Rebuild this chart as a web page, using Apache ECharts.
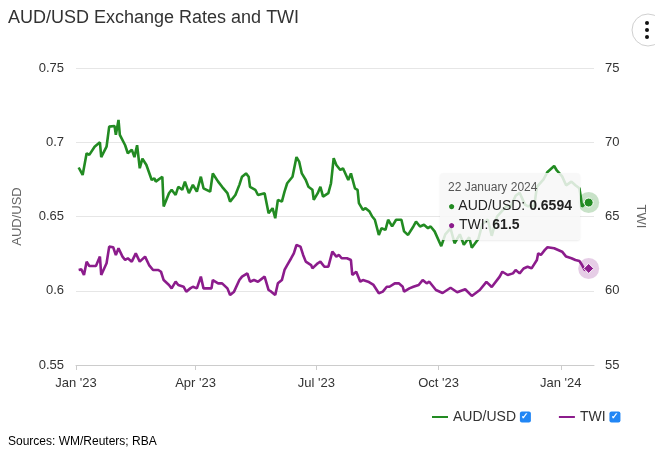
<!DOCTYPE html>
<html>
<head>
<meta charset="utf-8">
<title>AUD/USD Exchange Rates and TWI</title>
<script src="https://cdn.jsdelivr.net/npm/echarts@6/dist/echarts.min.js"></script>
<style>
  html, body { margin: 0; padding: 0; background: #fff; }
  #chart { width: 655px; height: 451px; }
</style>
</head>
<body>
<div id="chart"></div>
<script>
// AUD/USD
const audDates = [
  '2023-01-03','2023-01-06','2023-01-09','2023-01-11','2023-01-15','2023-01-19','2023-01-20','2023-01-24',
  '2023-01-26','2023-01-30','2023-01-31','2023-02-02','2023-02-03','2023-02-07','2023-02-09','2023-02-12',
  '2023-02-14','2023-02-16','2023-02-18','2023-02-20','2023-02-23','2023-02-27','2023-03-01','2023-03-02',
  '2023-03-07','2023-03-08','2023-03-12','2023-03-14','2023-03-17','2023-03-19','2023-03-22','2023-03-24',
  '2023-03-27','2023-03-30','2023-04-02','2023-04-05','2023-04-07','2023-04-12','2023-04-14','2023-04-18',
  '2023-04-21','2023-04-25','2023-04-27','2023-05-01','2023-05-04','2023-05-06','2023-05-09','2023-05-11',
  '2023-05-12','2023-05-16','2023-05-18','2023-05-23','2023-05-26','2023-05-29','2023-05-31','2023-06-02',
  '2023-06-05','2023-06-07','2023-06-09','2023-06-13','2023-06-16','2023-06-18','2023-06-20','2023-06-23',
  '2023-06-25','2023-06-28','2023-06-29','2023-07-02','2023-07-04','2023-07-06','2023-07-10','2023-07-12',
  '2023-07-14','2023-07-16','2023-07-19','2023-07-21','2023-07-25','2023-07-27','2023-07-30','2023-08-01',
  '2023-08-02','2023-08-05','2023-08-07','2023-08-10','2023-08-12','2023-08-14','2023-08-17','2023-08-19',
  '2023-08-22','2023-08-24','2023-08-27','2023-08-30','2023-09-03','2023-09-05','2023-09-08','2023-09-12',
  '2023-09-14','2023-09-17','2023-09-20','2023-09-23','2023-09-25','2023-09-28','2023-10-03','2023-10-06',
  '2023-10-10','2023-10-13','2023-10-17','2023-10-20','2023-10-24','2023-10-26','2023-10-31','2023-11-03',
  '2023-11-07','2023-11-10','2023-11-14','2023-11-17','2023-11-21','2023-11-24','2023-11-28','2023-12-01',
  '2023-12-05','2023-12-07','2023-12-12','2023-12-14','2023-12-19','2023-12-22','2023-12-27','2023-12-29',
  '2024-01-02','2024-01-05','2024-01-09','2024-01-12','2024-01-15','2024-01-16','2024-01-17','2024-01-19',
  '2024-01-22'
];
const audValues = [
  0.683, 0.678, 0.6926, 0.6915, 0.697, 0.700, 0.690, 0.697,
  0.7105, 0.711, 0.705, 0.715, 0.705, 0.698, 0.6926, 0.695,
  0.690, 0.698, 0.6825, 0.689, 0.6847, 0.6746, 0.6757, 0.6735,
  0.6768, 0.6567, 0.6657, 0.668, 0.6645, 0.670, 0.668, 0.6735,
  0.6657, 0.6713, 0.6667, 0.6768, 0.669, 0.6667, 0.679, 0.6735,
  0.670, 0.6657, 0.660, 0.6645, 0.6713, 0.6768, 0.679, 0.6768,
  0.670, 0.668, 0.6645, 0.6657, 0.6522, 0.6556, 0.6488, 0.6612,
  0.660, 0.6667, 0.6724, 0.6768, 0.690, 0.687, 0.679, 0.6746,
  0.670, 0.668, 0.6612, 0.6657, 0.670, 0.6634, 0.6657, 0.6724,
  0.6893, 0.6847, 0.6813, 0.6825, 0.6746, 0.679, 0.669, 0.668,
  0.659, 0.6545, 0.6556, 0.6533, 0.650, 0.6478, 0.6376, 0.6421,
  0.641, 0.6478, 0.6433, 0.6478, 0.6478, 0.640, 0.6376, 0.6433,
  0.6466, 0.6433, 0.6444, 0.6421, 0.6433, 0.640, 0.630, 0.638,
  0.642, 0.632, 0.638, 0.631, 0.636, 0.629, 0.635, 0.645,
  0.648, 0.637, 0.650, 0.653, 0.657, 0.656, 0.664, 0.666,
  0.658, 0.657, 0.657, 0.670, 0.675, 0.680, 0.684, 0.681,
  0.677, 0.671, 0.6735, 0.671, 0.669, 0.6634, 0.6567, 0.6585,
  0.6594
];

// Trade-weighted index
const twiDates = [
  '2023-01-03','2023-01-05','2023-01-07','2023-01-09','2023-01-11','2023-01-16','2023-01-19','2023-01-20',
  '2023-01-24','2023-01-26','2023-01-29','2023-01-31','2023-02-02','2023-02-05','2023-02-07','2023-02-09',
  '2023-02-12','2023-02-15','2023-02-18','2023-02-22','2023-02-25','2023-02-28','2023-03-04','2023-03-06',
  '2023-03-08','2023-03-12','2023-03-14','2023-03-17','2023-03-19','2023-03-23','2023-03-25','2023-03-28',
  '2023-03-30','2023-04-02','2023-04-05','2023-04-07','2023-04-13','2023-04-14','2023-04-18','2023-04-21',
  '2023-04-25','2023-04-27','2023-04-30','2023-05-04','2023-05-06','2023-05-10','2023-05-12','2023-05-15',
  '2023-05-18','2023-05-23','2023-05-26','2023-05-28','2023-05-31','2023-06-02','2023-06-05','2023-06-07',
  '2023-06-09','2023-06-12','2023-06-14','2023-06-16','2023-06-19','2023-06-21','2023-06-23','2023-06-27',
  '2023-06-28','2023-07-02','2023-07-04','2023-07-07','2023-07-10','2023-07-13','2023-07-16','2023-07-18',
  '2023-07-20','2023-07-24','2023-07-27','2023-07-28','2023-07-31','2023-08-03','2023-08-05','2023-08-09',
  '2023-08-13','2023-08-17','2023-08-20','2023-08-23','2023-08-25','2023-08-29','2023-09-01','2023-09-04',
  '2023-09-05','2023-09-09','2023-09-12','2023-09-16','2023-09-19','2023-09-22','2023-09-24','2023-09-29',
  '2023-10-04','2023-10-10','2023-10-15','2023-10-21','2023-10-26','2023-11-01','2023-11-06','2023-11-10',
  '2023-11-16','2023-11-18','2023-11-22','2023-11-26','2023-11-28','2023-12-01','2023-12-04','2023-12-07',
  '2023-12-10','2023-12-14','2023-12-15','2023-12-17','2023-12-20','2023-12-22','2023-12-27','2024-01-02',
  '2024-01-05','2024-01-09','2024-01-12','2024-01-15','2024-01-17','2024-01-19','2024-01-22'
];
const twiValues = [
  61.4, 61.44, 61.06, 61.96, 61.67, 61.67, 62.3, 61.06,
  61.85, 62.97, 62.93, 62.4, 62.86, 62.3, 62.07, 62.19,
  61.96, 62.52, 61.96, 62.3, 61.73, 61.4, 61.4, 61.28,
  60.72, 60.39, 60.16, 60.61, 60.39, 60.27, 59.94, 60.16,
  60.27, 60.16, 60.95, 60.16, 60.16, 60.72, 60.5, 60.5,
  60.16, 59.71, 59.94, 60.72, 60.95, 61.17, 60.61, 60.72,
  60.61, 60.95, 60.05, 59.94, 59.71, 60.5, 60.72, 61.4,
  61.73, 62.19, 62.52, 63.08, 62.97, 62.41, 61.96, 61.73,
  61.51, 61.85, 61.96, 61.62, 61.62, 62.63, 62.3, 62.41,
  62.19, 62.19, 62.07, 61.06, 61.28, 60.61, 60.72, 60.61,
  60.39, 59.83, 59.94, 60.27, 60.27, 60.5, 60.5, 60.27,
  59.94, 60.16, 60.27, 60.39, 60.72, 60.5, 60.61, 60.05,
  59.85, 60.2, 59.9, 60.1, 59.65, 60.05, 60.6, 60.25,
  60.95, 61.28, 61.06, 61.17, 61.4, 61.17, 61.5, 61.62,
  61.51, 62.07, 62.52, 62.41, 62.75, 62.93, 62.86, 62.63,
  62.3, 62.19, 62.07, 62.0, 61.73, 61.4, 61.5
];

const xTickDates = ['2023-01-01', '2023-04-01', '2023-07-01', '2023-10-01', '2024-01-01'];
const xTickLabels = ["Jan '23", "Apr '23", "Jul '23", "Oct '23", "Jan '24"];
const monthNames = ['January','February','March','April','May','June','July',
  'August','September','October','November','December'];

const FONT = '"Liberation Sans", Arial, Helvetica, sans-serif';
const AUD_COLOR = '#228b22';
const TWI_COLOR = '#8c1c8c';

function toTime(s) {
  const p = s.split('-').map(Number);
  return Date.UTC(p[0], p[1] - 1, p[2]);
}

const tickTimes = xTickDates.map(toTime);
const audData = audDates.map((d, i) => [toTime(d), audValues[i]]);
const twiData = twiDates.map((d, i) => [toTime(d), twiValues[i]]);
const audLast = audData[audData.length - 1];
const twiLast = twiData[twiData.length - 1];

const chart = echarts.init(document.getElementById('chart'));

const option = {
  animation: false,
  textStyle: { fontFamily: FONT },
  title: [
    {
      text: 'AUD/USD Exchange Rates and TWI',
      left: 8,
      top: 9,
      padding: 0,
      textStyle: { fontSize: 18, fontWeight: 'normal', color: '#333', fontFamily: FONT }
    },
    {
      text: 'Sources: WM/Reuters; RBA',
      left: 8,
      top: 436,
      padding: 0,
      textStyle: { fontSize: 12, fontWeight: 'normal', color: '#000', fontFamily: FONT }
    }
  ],
  graphic: [
    { type: 'circle', shape: { cx: 648, cy: 30, r: 16 }, style: { fill: '#fff', stroke: '#cfcfcf', lineWidth: 1 } },
    { type: 'circle', shape: { cx: 647, cy: 23, r: 2 }, style: { fill: '#111' } },
    { type: 'circle', shape: { cx: 647, cy: 30, r: 2 }, style: { fill: '#111' } },
    { type: 'circle', shape: { cx: 647, cy: 37, r: 2 }, style: { fill: '#111' } }
  ],
  grid: { left: 76, right: 48, top: 68, bottom: 86 },
  legend: {
    left: 427,
    top: 405,
    icon: 'rect',
    itemWidth: 16,
    itemHeight: 2,
    itemGap: 28,
    data: ['AUD/USD', 'TWI'],
    formatter: name => name + ' {cb|✓}',
    textStyle: {
      fontSize: 14,
      color: '#333',
      fontFamily: FONT,
      rich: {
        cb: {
          backgroundColor: '#2186f5',
          color: '#fff',
          borderRadius: 2,
          width: 11,
          height: 11,
          lineHeight: 11,
          fontSize: 9,
          fontWeight: 'bold',
          align: 'center'
        }
      }
    }
  },
  tooltip: {
    trigger: 'axis',
    axisPointer: { type: 'none' },
    alwaysShowContent: true,
    position: [440, 173],
    backgroundColor: 'rgba(247,247,247,0.85)',
    borderWidth: 0,
    padding: [6, 8, 6, 8],
    transitionDuration: 0,
    extraCssText: 'box-shadow: 0 1px 2px rgba(0,0,0,0.08); border-radius: 3px;',
    formatter: params => {
      const d = new Date(params[0].value[0]);
      const head = d.getUTCDate() + ' ' + monthNames[d.getUTCMonth()] + ' ' + d.getUTCFullYear();
      const ff = FONT.replace(/"/g, "'");
      let html = '<div style="font-size:12px;color:#555;line-height:17px;font-family:' + ff + '">' + head + '</div>';
      params.forEach(p => {
        const v = p.seriesName === 'TWI' ? p.value[1].toFixed(1) : p.value[1].toFixed(4);
        html += '<div style="font-size:14px;color:#222;line-height:18px;font-family:' + ff + '">' +
          '<span style="color:' + p.color + ';font-size:12px;">●</span> ' +
          p.seriesName + ': <b>' + v + '</b></div>';
      });
      return html;
    }
  },
  xAxis: {
    type: 'value',
    min: toTime('2023-01-01'),
    max: toTime('2024-01-26'),
    axisLine: { lineStyle: { color: '#ccc' } },
    axisTick: { show: true, length: 5, lineStyle: { color: '#ccc' }, customValues: tickTimes },
    axisLabel: {
      customValues: tickTimes,
      color: '#333',
      fontSize: 13,
      margin: 12,
      formatter: v => {
        const i = tickTimes.indexOf(v);
        return i >= 0 ? xTickLabels[i] : '';
      }
    },
    splitLine: { show: false }
  },
  yAxis: [
    {
      type: 'value',
      min: 0.55,
      max: 0.75,
      interval: 0.05,
      name: 'AUD/USD',
      nameLocation: 'middle',
      nameRotate: 90,
      nameGap: 52,
      nameTextStyle: { color: '#666', fontSize: 13 },
      axisLine: { show: false },
      axisTick: { show: false },
      axisLabel: { color: '#333', fontSize: 13, margin: 12 },
      splitLine: { lineStyle: { color: '#e6e6e6' } }
    },
    {
      type: 'value',
      min: 55,
      max: 75,
      interval: 5,
      name: 'TWI',
      nameLocation: 'middle',
      nameRotate: -90,
      nameGap: 40,
      nameTextStyle: { color: '#666', fontSize: 13 },
      axisLine: { show: false },
      axisTick: { show: false },
      axisLabel: { color: '#333', fontSize: 13, margin: 11 },
      splitLine: { show: false }
    }
  ],
  series: [
    {
      name: 'AUD/USD',
      type: 'line',
      data: audData,
      symbol: 'none',
      color: AUD_COLOR,
      lineStyle: { width: 2.6, color: AUD_COLOR },
      emphasis: { disabled: true },
      markPoint: {
        silent: true,
        label: { show: false },
        data: [
          { coord: audLast, symbol: 'circle', symbolSize: 21, itemStyle: { color: 'rgba(34,139,34,0.25)' } },
          { coord: audLast, symbol: 'circle', symbolSize: 9, itemStyle: { color: AUD_COLOR, borderColor: '#fff', borderWidth: 1 } }
        ]
      }
    },
    {
      name: 'TWI',
      type: 'line',
      yAxisIndex: 1,
      data: twiData,
      symbol: 'none',
      color: TWI_COLOR,
      lineStyle: { width: 2.6, color: TWI_COLOR },
      emphasis: { disabled: true },
      markPoint: {
        silent: true,
        label: { show: false },
        data: [
          { coord: twiLast, symbol: 'circle', symbolSize: 21, itemStyle: { color: 'rgba(140,28,140,0.22)' } },
          { coord: twiLast, symbol: 'diamond', symbolSize: 10, itemStyle: { color: TWI_COLOR, borderColor: '#fff', borderWidth: 1 } }
        ]
      }
    }
  ]
};

chart.setOption(option);
chart.dispatchAction({ type: 'showTip', seriesIndex: 0, dataIndex: audData.length - 1 });
</script>
</body>
</html>
